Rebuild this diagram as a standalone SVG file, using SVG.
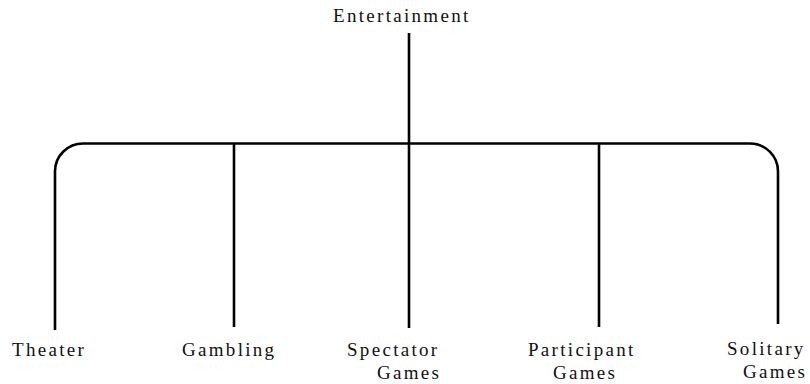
<svg xmlns="http://www.w3.org/2000/svg" width="810" height="384" viewBox="0 0 810 384">
<style>
.l{fill:none;stroke:#000;stroke-width:2.6;stroke-linecap:butt}
.t{font-family:"Liberation Serif",serif;font-size:19px;letter-spacing:2.3px;fill:#111}
</style>
<rect width="810" height="384" fill="#fff"/>
<g id="connectors">
<path class="l" d="M409,33 V328"/>
<path class="l" d="M55,330 V171 A28,28 0 0 1 83,143.5 H750 A28,28 0 0 1 778,171.5 V324"/>
<path class="l" d="M234,144 V327"/>
<path class="l" d="M599,143 V327"/>
</g>
<g id="entertainment"><text class="t" x="333" y="22">Entertainment</text></g>
<g id="theater"><text class="t" x="12" y="356">Theater</text></g>
<g id="gambling"><text class="t" x="182" y="356">Gambling</text></g>
<g id="spectator"><text class="t" x="347" y="356">Spectator</text><text class="t" x="377" y="379">Games</text></g>
<g id="participant"><text class="t" x="528" y="356">Participant</text><text class="t" x="553" y="379">Games</text></g>
<g id="solitary"><text class="t" x="727" y="355">Solitary</text><text class="t" x="743" y="378">Games</text></g>
</svg>
